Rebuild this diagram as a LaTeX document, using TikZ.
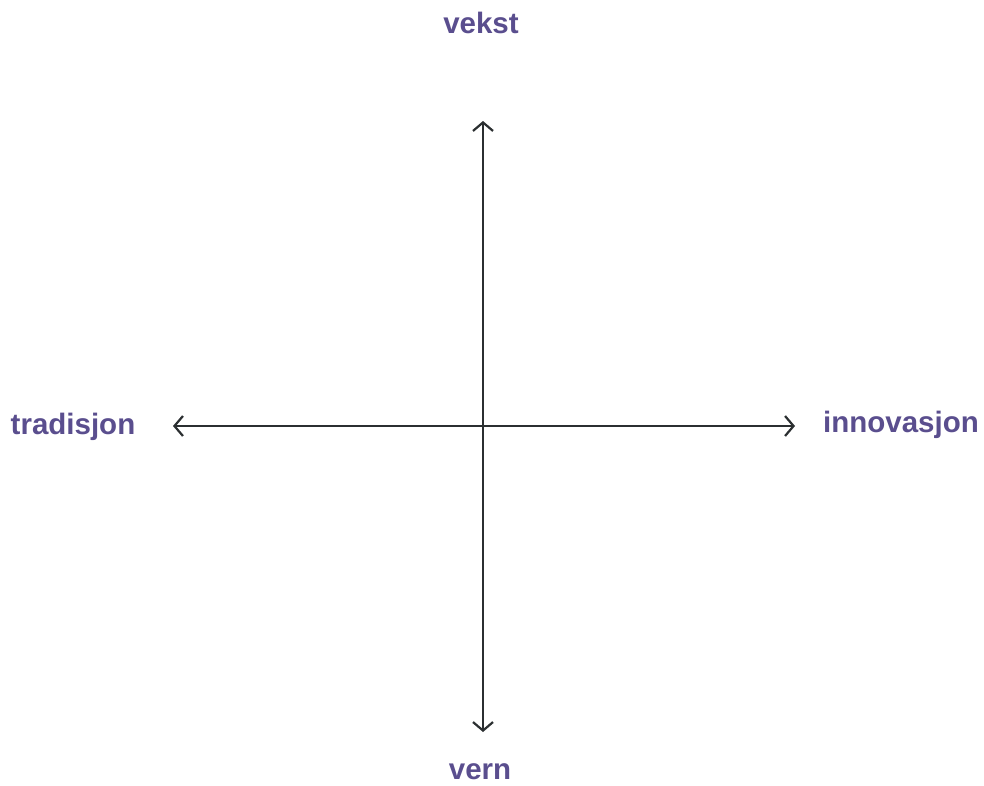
\documentclass[tikz,border=0pt]{standalone}
\usepackage{fontspec}
\setmainfont{Liberation Sans}
\usetikzlibrary{arrows.meta}
\definecolor{labelpurple}{HTML}{5A4E8E}
\definecolor{axisgray}{HTML}{2B2F31}
\tikzset{
  axislabel/.style={text=labelpurple, font=\fontsize{29.5}{34}\selectfont\bfseries, inner sep=0pt, anchor=base},
  axisline/.style={draw=axisgray, line width=2.2pt, {Straight Barb[length=8.5pt,width=20pt,line width=2.2pt]}-{Straight Barb[length=8.5pt,width=20pt,line width=2.2pt]}}
}
\begin{document}
\begin{tikzpicture}[x=1pt,y=-1pt]
\useasboundingbox (0,0) rectangle (984,785);
\coordinate (top) at (483,121);
\coordinate (bottom) at (483,732);
\coordinate (left) at (173,426);
\coordinate (right) at (795,426);
\draw[axisline] (top) -- (bottom);
\draw[axisline] (left) -- (right);
\node[axislabel] (vekst) at (481,33) {vekst};
\node[axislabel] (vern) at (480,779.5) {vern};
\node[axislabel] (tradisjon) at (73,434) {tradisjon};
\node[axislabel] (innovasjon) at (901,432) {innovasjon};
\end{tikzpicture}
\end{document}
